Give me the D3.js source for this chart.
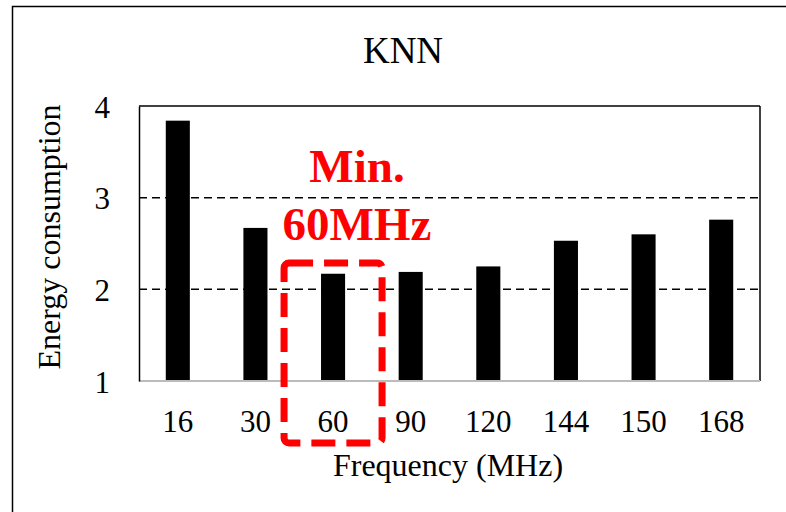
<!DOCTYPE html>
<html><head><meta charset="utf-8">
<script src="https://cdn.jsdelivr.net/npm/d3@7"></script>
<style>body{margin:0;background:#fff}svg{display:block}text{font-family:"Liberation Serif","Times New Roman",serif}</style>
</head><body><svg id="c" width="786" height="512"></svg>
<script>
const categories = ["16","30","60","90","120","144","150","168"];
const energy = [3.84, 2.67, 2.17, 2.19, 2.25, 2.53, 2.60, 2.76];
const yTicks = [1,2,3,4];
const title = "KNN";
const xTitle = "Frequency (MHz)";
const yTitle = "Energy consumption";
const noteLines = ["Min.","60MHz"];
const highlight = "60";

const svg = d3.select("#c");
const m = {l:139, r:760, t:106, b:381};
// outer frame
svg.append("rect").attr("x",12.5).attr("y",6.5).attr("width",800).attr("height",600)
  .attr("fill","none").attr("stroke","#000").attr("stroke-width",1.5);

const x = d3.scaleBand().domain(categories).range([m.l,m.r]).paddingInner(0.69).paddingOuter(0.345);
const y = d3.scaleLinear().domain([1,4]).range([m.b,m.t]);

// gridlines
svg.append("g").selectAll("line").data(yTicks.filter(v=>v>1 && v<4)).join("line")
  .attr("x1",m.l).attr("x2",m.r).attr("y1",d=>y(d)).attr("y2",d=>y(d))
  .attr("stroke","#000").attr("stroke-width",1.5).attr("stroke-dasharray","8,5");

// bars
svg.append("g").selectAll("rect").data(categories).join("rect")
  .attr("x",d=>x(d)).attr("width",x.bandwidth())
  .attr("y",(d,i)=>y(energy[i])).attr("height",(d,i)=>y(1)-y(energy[i]))
  .attr("fill","#000");

// frame of plot
svg.append("line").attr("x1",m.l).attr("x2",m.r).attr("y1",m.t).attr("y2",m.t).attr("stroke","#000").attr("stroke-width",1.5);
svg.append("line").attr("x1",m.r).attr("x2",m.r).attr("y1",m.t).attr("y2",m.b).attr("stroke","#000").attr("stroke-width",1.5);
svg.append("line").attr("x1",m.l).attr("x2",m.r).attr("y1",m.b).attr("y2",m.b).attr("stroke","#bbb").attr("stroke-width",2);

// y axis
const ya = svg.append("g").attr("transform",`translate(${m.l},0)`)
  .call(d3.axisLeft(y).tickValues(yTicks).tickFormat(d3.format("d")).tickSize(0).tickPadding(29));
ya.select(".domain").attr("stroke","#000").attr("stroke-width",1.5);
ya.selectAll("text").attr("font-size",31).attr("fill","#000").attr("font-family","Liberation Serif").attr("dy","0.36em");

// x axis
const xa = svg.append("g").attr("transform",`translate(0,${m.b})`)
  .call(d3.axisBottom(x).tickSize(0).tickPadding(29));
xa.select(".domain").remove();
xa.selectAll("text").attr("font-size",31).attr("fill","#000").attr("font-family","Liberation Serif").attr("dy","0.71em");

// titles
svg.append("text").attr("x",403).attr("y",63).attr("text-anchor","middle").attr("font-size",37).text(title);
svg.append("text").attr("x",448).attr("y",476).attr("text-anchor","middle").attr("font-size",32).text(xTitle);
svg.append("text").attr("transform",`translate(60,237) rotate(-90)`).attr("text-anchor","middle").attr("font-size",32).text(yTitle);

// annotation
const cx = x(highlight)+x.bandwidth()/2;
svg.append("rect").attr("x",cx-49).attr("y",263).attr("width",98).attr("height",180)
  .attr("rx",5).attr("fill","none").attr("stroke","#ff0000").attr("stroke-width",7).attr("stroke-dasharray","24,11");
svg.append("g").selectAll("text").data(noteLines).join("text")
  .attr("x",357).attr("y",(d,i)=>182+i*58).attr("text-anchor","middle")
  .attr("font-size",47).attr("font-weight","bold").attr("fill","#ff0000").text(d=>d);
</script></body></html>
